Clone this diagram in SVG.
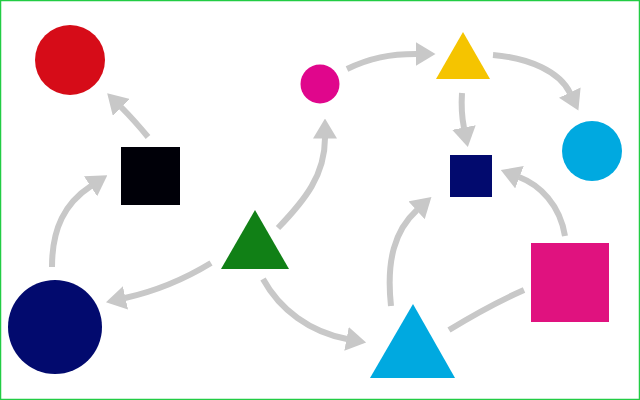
<svg xmlns="http://www.w3.org/2000/svg" width="640" height="400" viewBox="0 0 640 400">
<style>
.edge{fill:none;stroke:#c8c8c8;stroke-width:6;stroke-linecap:butt}
.arr{marker-end:url(#ah)}
</style>
<defs>
<marker id="ah" markerUnits="userSpaceOnUse" viewBox="0 0 20 24" markerWidth="20" markerHeight="24" refX="0.5" refY="12" orient="auto">
<path d="M0,0 L20,12 L0,24 z" fill="#c8c8c8"/>
</marker>
</defs>
<rect x="0" y="0" width="640" height="400" fill="#ffffff"/>
<rect x="0.5" y="0.5" width="639" height="399" fill="none" stroke="#22cc44" stroke-width="1.5"/>
<g id="connectors">
<path class="edge arr" d="M148,137 Q134,120 121,107"/>
<path class="edge arr" d="M52,267 C52,228 65,203 91,186"/>
<path class="edge arr" d="M211,263 Q170,288 125,298"/>
<path class="edge arr" d="M278,228 C305,200 325,175 325,138"/>
<path class="edge arr" d="M347,69 C370,58 390,54 416,54"/>
<path class="edge arr" d="M493,55 C530,58 560,72 570,93"/>
<path class="edge arr" d="M462,93 C461,108 462,118 464,128"/>
<path class="edge arr" d="M565,236 C560,205 540,185 519,177"/>
<path class="edge arr" d="M391,306 C386,260 395,230 417,210"/>
<path class="edge arr" d="M263,279 C280,310 310,332 347,339"/>
<path class="edge" d="M524,290 Q490,305 449,330"/>
</g>
<g id="red-circle"><circle cx="70" cy="60" r="35" fill="#d60c18"/></g>
<g id="black-square"><rect x="121" y="147" width="59" height="58" fill="#000008"/></g>
<g id="navy-circle"><circle cx="55" cy="327" r="47" fill="#020a6e"/></g>
<g id="green-triangle"><polygon points="255,210 221,269 289,269" fill="#118016"/></g>
<g id="magenta-circle"><circle cx="320" cy="84" r="19.5" fill="#e0068c"/></g>
<g id="yellow-triangle"><polygon points="463,32 436,79 490,79" fill="#f5c400"/></g>
<g id="cyan-circle"><circle cx="592" cy="151" r="30" fill="#00a9e0"/></g>
<g id="navy-square"><rect x="450" y="155" width="42" height="42" fill="#020a6e"/></g>
<g id="pink-square"><rect x="531" y="243" width="78" height="79" fill="#e0127f"/></g>
<g id="cyan-triangle"><polygon points="413,304 370,378 455,378" fill="#00a9e0"/></g>
</svg>
